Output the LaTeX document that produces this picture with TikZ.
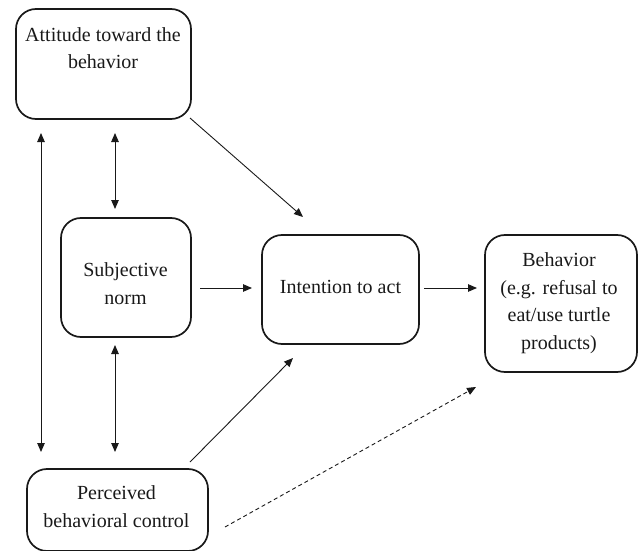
\documentclass[tikz,border=0pt]{standalone}
\usepackage{fontspec}
\setmainfont{Liberation Serif}
\usetikzlibrary{arrows.meta,calc}
\begin{document}
\begin{tikzpicture}[x=1pt,y=-1pt,
  box/.style={draw=black!90, line width=1.7pt, rounded corners=20pt, inner sep=0pt, outer sep=0pt},
  txt/.style={anchor=base, align=center, inner sep=0pt, text=black!90, font=\fontsize{20}{27.5}\selectfont},
  conn/.style={line width=0.9pt, draw=black!90, -{Triangle[length=9pt,width=7.5pt]}},
  dconn/.style={line width=0.9pt, draw=black!90, {Triangle[length=9pt,width=7.5pt]}-{Triangle[length=9pt,width=7.5pt]}},
  dashconn/.style={conn, dash pattern=on 4pt off 3pt}]
\useasboundingbox (0,0) rectangle (638,551);
% boxes
\node[box, minimum width=175pt, minimum height=110pt] (att) at (103.5,64) {};
\node[box, minimum width=130pt, minimum height=119pt] (sn) at (126,277.5) {};
\node[box, minimum width=157pt, minimum height=109pt] (int) at (340.5,289.5) {};
\node[box, minimum width=152pt, minimum height=137pt] (beh) at (561,303.5) {};
\node[box, minimum width=181pt, minimum height=82pt] (pbc) at (117.5,510) {};
% texts (anchor base = baseline of last line)
\node[txt] (atttext) at (103,69) {Attitude toward the\\behavior};
\node[txt] (sntext) at (125.5,304) {Subjective\\norm};
\node[txt] (inttext) at (340.5,293) {Intention to act};
\node[txt] (behtext) at (559,349) {Behavior\\(e.g. refusal to\\eat/use turtle\\products)};
\node[txt] (pbctext) at (116.5,527) {Perceived\\behavioral control};
% connectors
\draw[dconn] ($(att.south west)+(25,14)$) -- ($(pbc.north west)+(14,-17)$);
\draw[dconn] ($(att.south west)+(99,14)$) -- ($(sn.north west)+(54,-9)$);
\draw[dconn] ($(sn.south west)+(54,8)$) -- ($(pbc.north west)+(88,-17)$);
\draw[conn] ($(sn.east)+(9,10.5)$) -- ($(int.west)+(-10,-1.5)$);
\draw[conn] ($(int.east)+(5,-1.5)$) -- ($(beh.west)+(-8,-15.5)$);
\draw[conn] ($(att.south east)+(-1,-1)$) -- ($(int.north west)+(41,-18)$);
\draw[conn] ($(pbc.north east)+(-18,-7)$) -- ($(int.south west)+(31,14)$);
\draw[dashconn] ($(pbc.east)+(17,17)$) -- ($(beh.south west)+(-9,15)$);
\end{tikzpicture}
\end{document}
